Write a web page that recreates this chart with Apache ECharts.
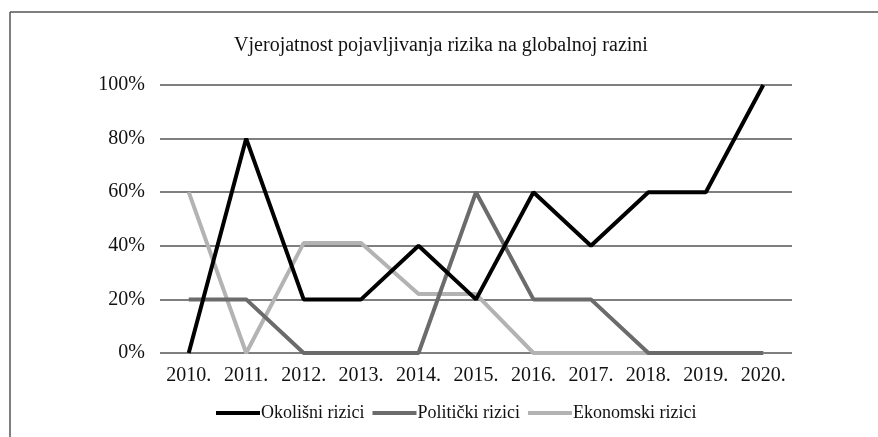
<!DOCTYPE html>
<html>
<head>
<meta charset="utf-8">
<script src="https://cdn.jsdelivr.net/npm/echarts@6/dist/echarts.min.js"></script>
<style>html,body{margin:0;padding:0;background:#fff}#c{width:878px;height:437px}</style>
</head>
<body>
<div id="c"></div>
<script>
const categories = ['2010.', '2011.', '2012.', '2013.', '2014.', '2015.', '2016.', '2017.', '2018.', '2019.', '2020.'];
const okolisni = [0, 80, 20, 20, 40, 20, 60, 40, 60, 60, 100];
const politicki = [20, 20, 0, 0, 0, 60, 20, 20, 0, 0, 0];
const ekonomski = [60, 0, 41, 41, 22, 22, 0, 0, 0, 0, 0];
const seriesNames = ['Okolišni rizici', 'Politički rizici', 'Ekonomski rizici'];
const titleText = 'Vjerojatnost pojavljivanja rizika na globalnoj razini';

const font = '"Liberation Serif", "DejaVu Serif", serif';
const chart = echarts.init(document.getElementById('c'));
chart.setOption({
  animation: false,
  title: {
    text: titleText, left: 436, textAlign: 'center', top: 31,
    textStyle: { fontFamily: font, fontWeight: 'normal', fontSize: 20, color: '#111' }
  },
  legend: {
    bottom: 10, left: 211, itemWidth: 44, itemHeight: 4, itemGap: 8,
    icon: 'rect',
    textStyle: { fontFamily: font, fontSize: 18, color: '#111', padding: [0, 0, 0, -4] },
    data: seriesNames
  },
  graphic: [
    { type: 'line', shape: { x1: 10, y1: 12, x2: 878, y2: 12 }, style: { stroke: '#555', lineWidth: 1.5 } },
    { type: 'line', shape: { x1: 10, y1: 12, x2: 10, y2: 437 }, style: { stroke: '#555', lineWidth: 1.5 } }
  ],
  grid: { left: 160, right: 86, top: 85, bottom: 84 },
  xAxis: {
    type: 'category', data: categories, boundaryGap: true,
    axisLine: { show: false }, axisTick: { show: false },
    axisLabel: { fontFamily: font, fontSize: 20, color: '#111', margin: 13, interval: 0, hideOverlap: false }
  },
  yAxis: {
    type: 'value', min: 0, max: 100, interval: 20,
    axisLine: { show: false }, axisTick: { show: false },
    axisLabel: { fontFamily: font, fontSize: 20, color: '#111', margin: 15, formatter: v => v + '%' },
    splitLine: { lineStyle: { color: '#555', width: 1.5 } }
  },
  series: [
    { name: seriesNames[2], type: 'line', data: ekonomski, symbol: 'none', lineStyle: { color: '#b3b3b3', width: 4 }, itemStyle: { color: '#b3b3b3' }, z: 2 },
    { name: seriesNames[1], type: 'line', data: politicki, symbol: 'none', lineStyle: { color: '#6b6b6b', width: 4 }, itemStyle: { color: '#6b6b6b' }, z: 3 },
    { name: seriesNames[0], type: 'line', data: okolisni, symbol: 'none', lineStyle: { color: '#000', width: 4 }, itemStyle: { color: '#000' }, z: 4 }
  ]
});
</script>
</body>
</html>
